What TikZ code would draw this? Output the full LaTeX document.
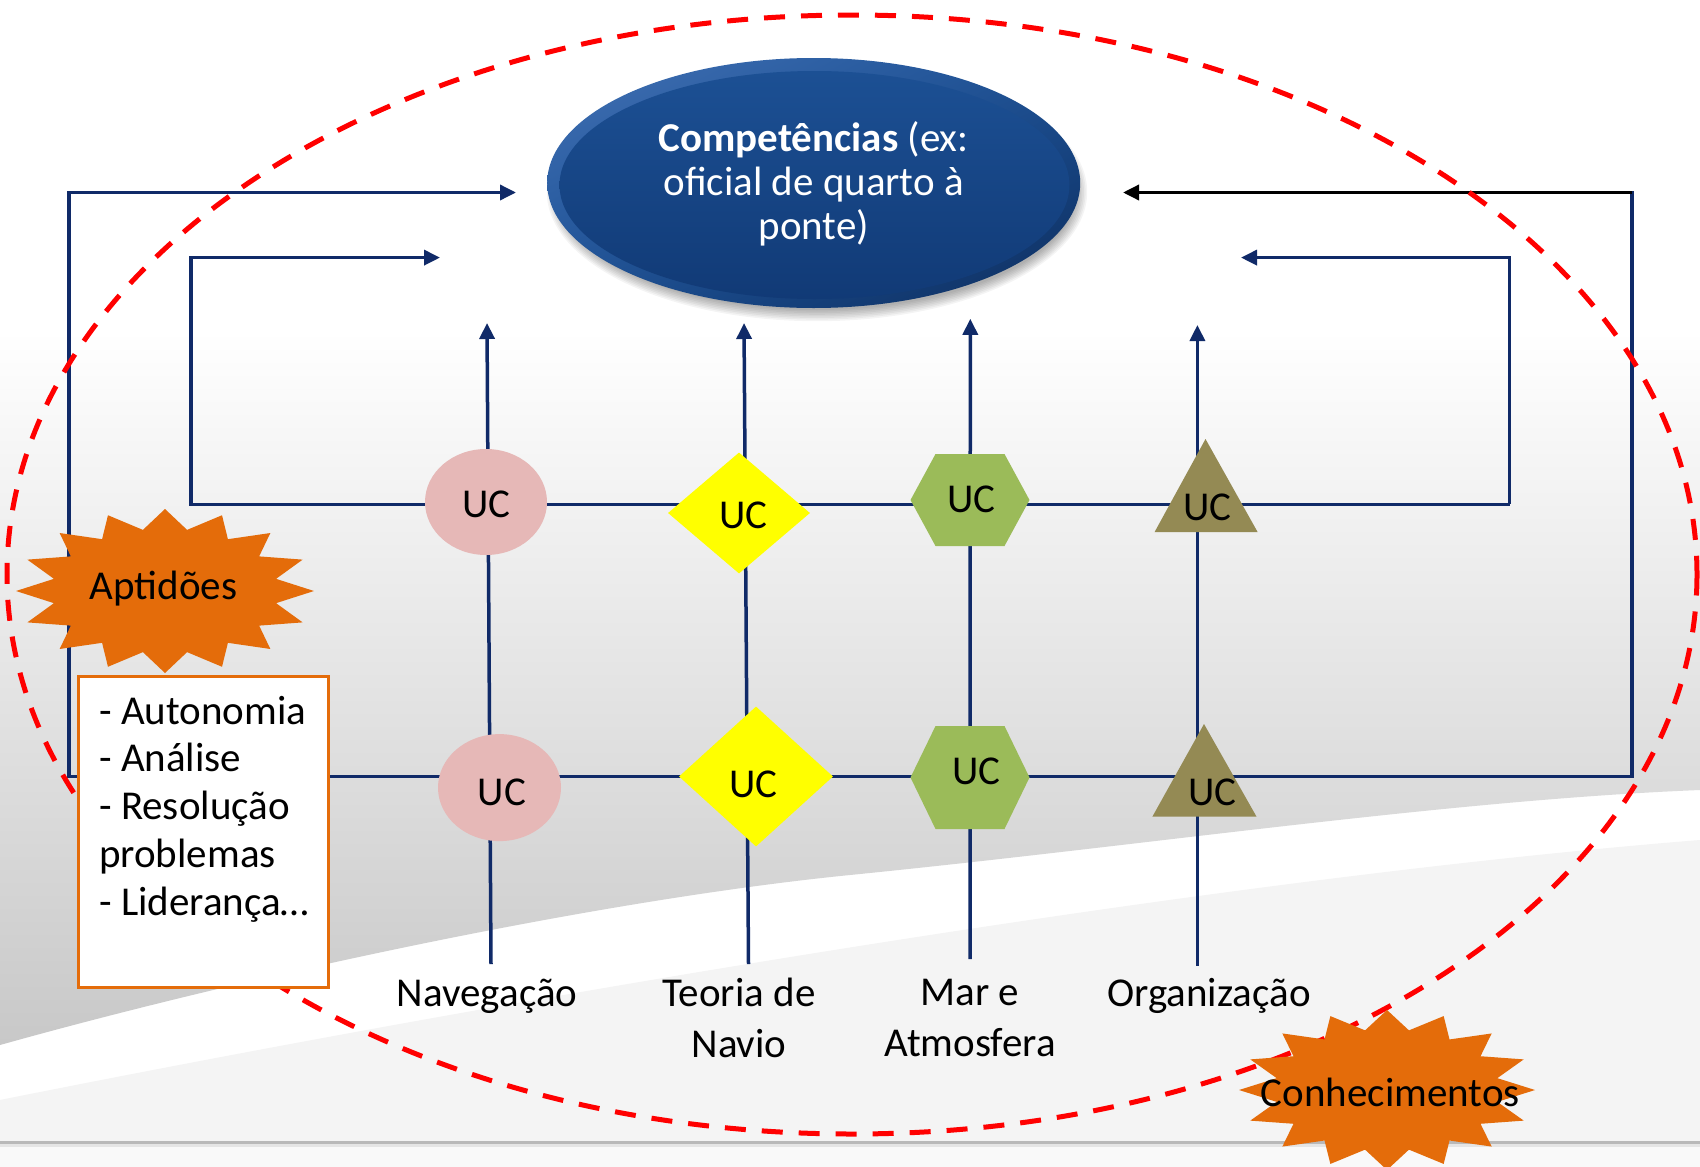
\documentclass[tikz,border=0pt]{standalone}
\usepackage{fontspec}
\setmainfont{Carlito}
\usetikzlibrary{arrows.meta,shapes.geometric,shadings}

\definecolor{navy}{RGB}{16,42,104}
\definecolor{ucpink}{RGB}{230,184,183}
\definecolor{ucyellow}{RGB}{255,255,0}
\definecolor{ucgreen}{RGB}{155,187,89}
\definecolor{ucolive}{RGB}{148,138,84}
\definecolor{burst}{RGB}{228,108,10}
\definecolor{dashred}{RGB}{255,0,0}
\definecolor{bgdark}{RGB}{200,200,200}
\definecolor{bglight}{RGB}{244,244,244}
\definecolor{rimlight}{RGB}{66,114,182}
\definecolor{rimdark}{RGB}{12,44,92}
\definecolor{facetop}{RGB}{28,80,148}
\definecolor{facebot}{RGB}{17,58,118}

\begin{document}
\begin{tikzpicture}[x=1pt, y=-1pt,
  link/.style={draw=navy, line width=3.5pt},
  feed/.style={link, -{Triangle[length=16pt,width=15pt]}},
  feedblack/.style={draw=black, line width=3.5pt, -{Triangle[length=16pt,width=15pt]}},
  bigtext/.style={inner sep=0pt, font=\fontsize{41}{49}\selectfont},
  uctext/.style={bigtext, anchor=base},
  axislabel/.style={bigtext, anchor=base, align=center, font=\fontsize{41}{50.5}\selectfont},
  ucell/.style={ellipse, fill=ucpink, inner sep=0pt},
  ucdiam/.style={diamond, fill=ucyellow, inner sep=0pt},
]

% ---------- slide background ----------
\useasboundingbox (0,0) rectangle (1700,1167);
\fill[white] (0,0) rectangle (1700,1167);
\fill[bglight] (0,1100) .. controls (500,1000) and (1200,880) .. (1700,840)
  -- (1700,1141) -- (0,1141) -- cycle;
\shade[top color=white, bottom color=bgdark]
  (0,330) -- (1700,330) -- (1700,790)
  .. controls (1450,800) and (1150,845) .. (850,875)
  .. controls (600,900) and (250,975) .. (0,1045) -- cycle;
\fill[gray!55] (0,1141.2) rectangle (1700,1144.2);
\fill[gray!20] (0,1144.2) rectangle (1700,1146.5);
\fill[gray!5] (0,1146.5) rectangle (1700,1167);

% ---------- loop corners and line ends ----------
\coordinate (oL) at (69,776.5);
\coordinate (oLt) at (69,192.5);
\coordinate (oLend) at (516,192.5);
\coordinate (oR) at (1632,776.5);
\coordinate (oRt) at (1632,192.5);
\coordinate (oRend) at (1123,192.5);
\coordinate (iL) at (191,504.4);
\coordinate (iLt) at (191,257.6);
\coordinate (iLend) at (440,257.6);
\coordinate (iR) at (1509.6,504.4);
\coordinate (iRt) at (1509.6,257.6);
\coordinate (iRend) at (1241,257.6);
\coordinate (c1b) at (491,964);   \coordinate (c1t) at (487,323);
\coordinate (c2b) at (748.5,964); \coordinate (c2t) at (744,323);
\coordinate (c3b) at (970,959);   \coordinate (c3t) at (970.3,318.8);
\coordinate (c4b) at (1197.4,965.6); \coordinate (c4t) at (1197.4,325);

% ---------- connectors ----------
\draw[feed, line join=miter] (oR) -- (oL) -- (oLt) -- (oLend);
\draw[link, line cap=rect] (oR) -- (oRt);
\draw[feedblack] (oRt) -- (oRend);
\draw[feed, line join=miter] (iR) -- (iL) -- (iLt) -- (iLend);
\draw[feed, line join=miter] (iR) -- (iRt) -- (iRend);
\draw[feed] (c1b) -- (c1t);
\draw[feed] (c2b) -- (c2t);
\draw[feed] (c3b) -- (c3t);
\draw[feed] (c4b) -- (c4t);

% ---------- curricular units, upper row ----------
\node[ucell, minimum width=122pt, minimum height=106pt] (nav1) at (486,502) {};
\node[ucdiam, minimum width=142pt, minimum height=121pt] (ten1) at (739,513) {};
\fill[ucgreen] (910.5,500) -- (935.5,454) -- (1004.5,454) -- (1029.5,500)
  -- (1004.5,546) -- (935.5,546) -- cycle;
\fill[ucolive] (1205.5,439) -- (1257.6,532) -- (1154.6,532) -- cycle;
\node[uctext] (nav1t) at (486.4,517.4) {UC};
\node[uctext] (ten1t) at (743.4,528.9) {UC};
\node[uctext] (mar1t) at (971.3,512.8) {UC};
\node[uctext] (org1t) at (1207.5,520.5) {UC};

% ---------- curricular units, lower row ----------
\node[ucell, minimum width=123pt, minimum height=107pt] (nav2) at (499.5,787.6) {};
\node[ucdiam, minimum width=154pt, minimum height=140pt] (ten2) at (756,776.5) {};
\fill[ucgreen] (910.5,777.5) -- (935.5,726) -- (1004.5,726) -- (1029.5,777.5)
  -- (1004.5,829) -- (935.5,829) -- cycle;
\fill[ucolive] (1204,724) -- (1256.5,816.6) -- (1152.4,816.6) -- cycle;
\node[uctext] (nav2t) at (502,805.4) {UC};
\node[uctext] (ten2t) at (753.4,797) {UC};
\node[uctext] (mar2t) at (976.6,784) {UC};
\node[uctext] (org2t) at (1212.6,805.8) {UC};

% ---------- subject areas (base = last line) ----------
\node[axislabel] (lnav) at (487,1006.8) {Navegação};
\node[axislabel] (lten) at (739,1057.3) {Teoria de\\Navio};
\node[axislabel] (lmar) at (970,1056.2) {Mar e\\Atmosfera};
\node[axislabel] (lorg) at (1209,1006) {Organização};

% ---------- competence goal ----------
\foreach \s in {0,...,7}
  \fill[black, opacity=0.045] (817,192) ellipse [x radius={259+1.6*\s}, y radius={118+1.6*\s}];
\shade[upper left=rimlight, upper right=facetop, lower left=facetop, lower right=rimdark]
  (813.7,183) ellipse [x radius=266.5, y radius=125];
\shade[top color=facetop, bottom color=facebot]
  (814.5,185) ellipse [x radius=255, y radius=114];
\node[bigtext, anchor=base, align=center, text=white, font=\fontsize{41}{44}\selectfont]
  (comp) at (813.7,239) {\textbf{Competências} (ex:\\oficial de quarto à\\ponte)};

% ---------- scope of the training ----------
\draw[dashred, line width=5pt, dash pattern=on 21pt off 16pt]
  (852,574.5) ellipse [x radius=845, y radius=559.5];

% ---------- skills ----------
\fill[burst] plot[domain=0:31, samples=32, variable=\k]
  ({165+149*(1-0.24*mod(round(\k),2))*cos(\k*11.25)},
   {591-82*(1-0.24*mod(round(\k),2))*sin(\k*11.25)}) -- cycle;
\node[uctext] (apt) at (163.4,599) {Aptidões};
\node[draw=burst, line width=3.5pt, fill=white, inner sep=0pt,
  minimum width=250pt, minimum height=311pt] (aptbox) at (203.5,831.75) {};
\node[bigtext, anchor=base west, align=left, font=\fontsize{41}{47.7}\selectfont]
  (aptlist) at (99,915) {- Autonomia\\- Análise\\- Resolução\\problemas\\- Liderança…};

% ---------- knowledge ----------
\fill[burst] plot[domain=0:31, samples=32, variable=\k]
  ({1387+148*(1-0.24*mod(round(\k),2))*cos(\k*11.25)},
   {1090-80*(1-0.24*mod(round(\k),2))*sin(\k*11.25)}) -- cycle;
\node[uctext] (con) at (1390.3,1106) {Conhecimentos};
\end{tikzpicture}
\end{document}
